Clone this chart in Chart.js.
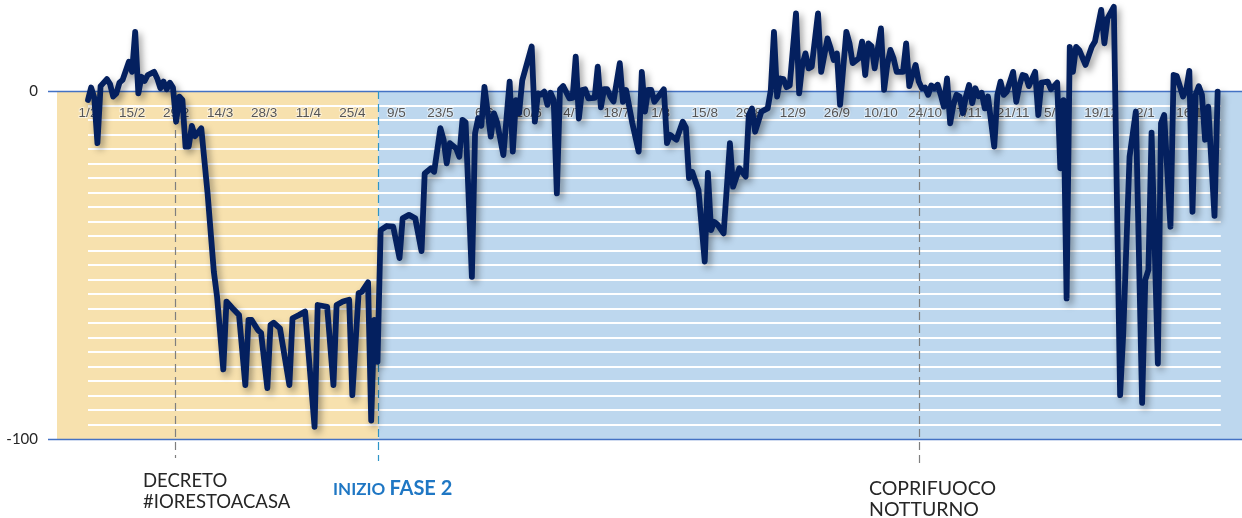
<!DOCTYPE html>
<html>
<head>
<meta charset="utf-8">
<script src="https://cdn.jsdelivr.net/npm/chart.js@4.4.1/dist/chart.umd.min.js"></script>
<style>
  html, body { margin: 0; padding: 0; background: #fff; }
  #wrap { position: relative; width: 1242px; height: 518px; }
</style>
</head>
<body>
<div id="wrap"><canvas id="grafico"></canvas></div>
<script>
// giorni a partire dal 1/2/2020 (%)
var days = [0, 1, 2, 3, 4, 6, 7, 8, 9, 10, 11, 13, 14, 15, 16, 17, 18, 19, 21, 22, 23, 24, 25, 26, 27, 28, 29, 30,
  31, 32, 33, 34, 36, 38, 40, 41, 43, 44, 46, 48, 50, 51, 52, 54, 55, 57, 58, 59, 61, 64, 65, 67, 69,
  72, 73, 76, 78, 79, 81, 83, 84, 86, 87, 89, 90, 91, 92, 93, 95, 97, 99, 100, 102, 104, 106, 107, 109, 110,
  112, 113, 114, 115, 117, 118, 119, 120, 122, 123, 124, 125, 126, 128, 129, 130, 132, 134, 135, 136, 137, 138,
  141, 142, 143, 144, 145, 146, 147, 148, 149, 150, 151, 153, 154, 155, 156, 157, 158, 159, 161, 162, 163, 164,
  165, 166, 167, 169, 170, 171, 173, 175, 176, 177, 178, 179, 180, 183, 184, 185, 187, 189, 190, 191, 192, 194,
  196, 197, 198, 199, 200, 202, 204, 205, 207, 209, 210, 211, 212, 214, 216, 217, 218, 219, 220, 221, 222, 223,
  225, 226, 227, 228, 229, 230, 232, 233, 235, 236, 237, 238, 239, 241, 242, 243, 245, 246, 247, 248, 249, 250,
  252, 253, 254, 255, 256, 257, 259, 260, 261, 262, 263, 264, 265, 266, 267, 268, 269, 270, 271, 272, 273, 274,
  275, 276, 277, 278, 279, 280, 281, 282, 283, 284, 285, 286, 288, 289, 290, 291, 292, 294, 295, 296, 297, 298,
  299, 301, 302, 303, 305, 306, 307, 308, 309, 310, 311, 312, 313, 314, 315, 317, 319, 320, 322, 323, 324, 326,
  328, 329, 331, 333, 335, 336, 337, 338, 340, 341, 342, 344, 345, 346, 348, 349, 350, 351, 352, 353, 354, 355,
  356, 358, 359];
var values = [-2.6, 1, -2, -15, 1.4, 3.4, 2, -1.6, -0.7, 2.4, 3.2, 8.4, 5.5, 17, -0.7, 4.1, 2.9, 4.6, 5.5, 3.6, 0.8, 2.7, 0.5, 2.4, 1, -8.8, -1.6, -2.6,
  -16, -16, -10, -13, -10.7, -29.4, -52, -59, -80, -60.5, -62.5, -64.4, -84.5, -65.8, -65.8, -68.7, -69.5, -85.4, -67.2, -66.6, -68.2, -84.5, -65.3, -64.4, -63.4,
  -96.5, -61.5, -62, -84.5, -61.5, -60.5, -60, -87.4, -58.1, -57.7, -55, -94.7, -65.8, -77.8, -40, -38.8, -39, -48, -36.6, -35.6, -36.6, -46, -23.7, -22.2, -23.2,
  -10.7, -14, -20.8, -15, -16.5, -18.9, -8.3, -9, -53.4, -12.2, -7.8, -10, 1.2, -13.1, -6.4, -9, -18.4, 2.7, -17.4, -2.6, -6.4, 3,
  12.8, -8.8, -0.7, -1, -0.2, -4, -0.5, -2.6, -29.4, 0.5, 1.4, -2.1, -2, 9.9, -7.9, 0.3, 0.5, -2.1, -2, 7, -4.7, 0.5,
  0.5, -1.6, -3, 8, -3.1, 0.3, -9.3, -17.4, 5.5, -5.9, 0.3, 0.3, -3.1, 0.5, -15, -12.6, -14, -8.8, -10.5, -25, -23.2, -28.4,
  -49, -23.5, -40, -37.6, -38.3, -40.9, -15, -27.5, -22.2, -24.6, -6.9, -5, -11.7, -5.9, -5, 0.3, 17, -1.6, 3.6, 3.4, 1.1, 1.6,
  22.3, -0.7, 7.5, 10.8, 6.5, 7, 22.3, 5.5, 15.1, 12.3, 8.9, 10.8, -4, 17, 13.7, 8, 9.4, 14.2, 4.6, 13.7, 12.9, 6.5,
  18, 0.3, 7.5, 11.8, 9.4, 5.5, 5.5, 13.7, 1.4, 4.6, 7.5, 2.7, 0.8, 1, -1.1, 1.6, 0.8, 1.8, -1.1, -4.5, 3.6, -9.3,
  -4, -1.1, -1.6, -6.4, -1.6, 1.7, -3.5, 0.8, -1.5, -0.5, -5, -1.6, -16, -1.1, 2.7, -1.1, -0.2, 5.5, -3.1, 1.6, 4.6, 4.3,
  1.4, 5.5, -6.9, 2.4, 2.7, 0.5, 1.4, 2.4, -22.2, -2.6, -59.6, 12.7, 5.5, 12.7, 11.8, 7.5, 12.7, 14.2, 23.3, 13.7, 20.9, 24.2,
  -87.4, -69.6, -18.9, -5.9, -89.6, -54.3, -51.4, -12, -78.3, -9.3, -6.9, -39, 4.6, 4.3, -1.6, 0.3, 5.8, -34.7, -1.1, 1.4, -1.1, -14,
  -4.5, -35.9, -0.2];

var xTickDays = [0, 14, 28, 42, 56, 70, 84, 98, 112, 126, 140, 154, 168, 182, 196, 210, 224, 238, 252, 266, 280, 294, 308, 322, 336, 350];
var xTickLabels = ['1/2', '15/2', '29/2', '14/3', '28/3', '11/4', '25/4', '9/5', '23/5', '6/6', '20/6', '4/7', '18/7',
  '1/8', '15/8', '29/8', '12/9', '26/9', '10/10', '24/10', '7/11', '21/11', '5/12', '19/12', '2/1', '16/1'];
var yTickLabels = [0, -100];

// eventi: giorno della linea tratteggiata e testo
var eventDays = [27.5, 92.3, 264.2];
var eventTexts = [['DECRETO', '#IORESTOACASA'], ['INIZIO ', 'FASE 2'], ['COPRIFUOCO', 'NOTTURNO']];

var stripeStep = 100 / 24;

var sfondo = {
    id: 'sfondo',
    beforeDraw: function (chart) {
        var ctx = chart.ctx, xs = chart.scales.x, ys = chart.scales.y;
        var top = ys.getPixelForValue(0), bottom = ys.getPixelForValue(-100);
        var split = xs.getPixelForValue(eventDays[1]);
        ctx.save();
        ctx.fillStyle = '#f7e1ae';
        ctx.fillRect(57, top, split - 57, bottom - top);
        ctx.fillStyle = '#bdd7ee';
        ctx.fillRect(split, top, chart.width - split, bottom - top);
        ctx.restore();
    },
    beforeDatasetsDraw: function (chart) {
        var ctx = chart.ctx, xs = chart.scales.x, ys = chart.scales.y;
        ctx.save();
        // linee orizzontali 0 e -100
        ctx.strokeStyle = '#4472c4';
        ctx.lineWidth = 1.3;
        yTickLabels.forEach(function (v) {
            var py = Math.round(ys.getPixelForValue(v)) + 0.5;
            ctx.beginPath();
            ctx.moveTo(48, py);
            ctx.lineTo(chart.width, py);
            ctx.stroke();
        });
        // linee tratteggiate degli eventi
        var ends = [458, 461, 468];
        var colors = ['#7f7f7f', '#2e95c8', '#7f7f7f'];
        ctx.setLineDash([8, 5]);
        ctx.lineWidth = 1.2;
        eventDays.forEach(function (d, i) {
            var px = Math.round(xs.getPixelForValue(d)) + 0.5;
            ctx.strokeStyle = colors[i];
            ctx.beginPath();
            ctx.moveTo(px, ys.getPixelForValue(0));
            ctx.lineTo(px, ends[i]);
            ctx.stroke();
        });
        ctx.restore();
    },
    afterDraw: function (chart) {
        var ctx = chart.ctx;
        ctx.save();
        ctx.textBaseline = 'alphabetic';
        ctx.fillStyle = '#262626';
        ctx.font = '18.5px Lato, "Noto Sans", sans-serif';
        ctx.fillText(eventTexts[0][0], 143, 487);
        ctx.fillText(eventTexts[0][1], 143, 508);
        ctx.font = '19.5px Lato, "Noto Sans", sans-serif';
        ctx.fillText(eventTexts[2][0], 869, 495);
        ctx.fillText(eventTexts[2][1], 869, 516);
        ctx.fillStyle = '#1f77c4';
        ctx.font = 'bold 17px Lato, "Noto Sans", sans-serif';
        ctx.fillText(eventTexts[1][0], 333, 495);
        var w = ctx.measureText(eventTexts[1][0]).width;
        ctx.font = 'bold 20px Lato, "Noto Sans", sans-serif';
        ctx.fillText(eventTexts[1][1], 333 + w, 495);
        ctx.restore();
    }
};

var ombra = {
    id: 'ombra',
    beforeDatasetDraw: function (chart) {
        var ctx = chart.ctx;
        ctx.save();
        ctx.shadowColor = 'rgba(0, 0, 0, 0.38)';
        ctx.shadowBlur = 7;
        ctx.shadowOffsetX = 3;
        ctx.shadowOffsetY = 4;
    },
    afterDatasetDraw: function (chart) {
        chart.ctx.restore();
    }
};

new Chart(document.getElementById('grafico'), {
    type: 'line',
    data: {
        datasets: [{
            data: days.map(function (d, i) { return { x: d, y: values[i] }; }),
            borderColor: '#04205f',
            borderWidth: 5.8,
            borderJoinStyle: 'round',
            borderCapStyle: 'round',
            pointRadius: 0,
            tension: 0,
            fill: false,
            clip: false
        }]
    },
    options: {
        responsive: true,
        maintainAspectRatio: false,
        animation: false,
        layout: { padding: { left: 0, right: 21.2, top: 0, bottom: 79 } },
        plugins: { legend: { display: false }, tooltip: { enabled: false } },
        scales: {
            x: {
                type: 'linear',
                min: 0,
                max: 360,
                position: { y: 0 },
                grid: { display: false },
                border: { display: false },
                afterBuildTicks: function (scale) {
                    scale.ticks = xTickDays.map(function (d) { return { value: d }; });
                },
                afterFit: function (scale) { scale.height = 0; },
                ticks: {
                    autoSkip: false,
                    maxRotation: 0,
                    padding: 6,
                    color: '#555555',
                    textStrokeColor: 'rgba(255,255,255,0.5)',
                    textStrokeWidth: 2,
                    font: { family: '"Liberation Sans Narrow", "Arial Narrow", sans-serif', size: 13.5 },
                    callback: function (v) {
                        var i = xTickDays.indexOf(v);
                        return i >= 0 ? xTickLabels[i] : '';
                    }
                }
            },
            y: {
                min: -100,
                max: 26.15,
                border: { display: false },
                afterBuildTicks: function (scale) {
                    var t = [];
                    for (var k = 0; k <= 24; k++) t.push({ value: -k * stripeStep });
                    scale.ticks = t;
                },
                afterFit: function (scale) {
                    scale.width = 88;
                    scale.paddingTop = 0;
                    scale.paddingBottom = 0;
                },
                grid: {
                    drawTicks: false,
                    lineWidth: 2,
                    color: function (c) {
                        var v = c.tick ? c.tick.value : 0;
                        return (Math.abs(v) < 0.01 || Math.abs(v + 100) < 0.01) ? 'rgba(0,0,0,0)' : '#ffffff';
                    }
                },
                ticks: {
                    autoSkip: false,
                    padding: 50,
                    color: '#262626',
                    font: { family: 'Lato, "Noto Sans", sans-serif', size: 15 },
                    callback: function (v) {
                        for (var i = 0; i < yTickLabels.length; i++) {
                            if (Math.abs(v - yTickLabels[i]) < 0.01) return String(yTickLabels[i]);
                        }
                        return '';
                    }
                }
            }
        }
    },
    plugins: [sfondo, ombra]
});
</script>
</body>
</html>
